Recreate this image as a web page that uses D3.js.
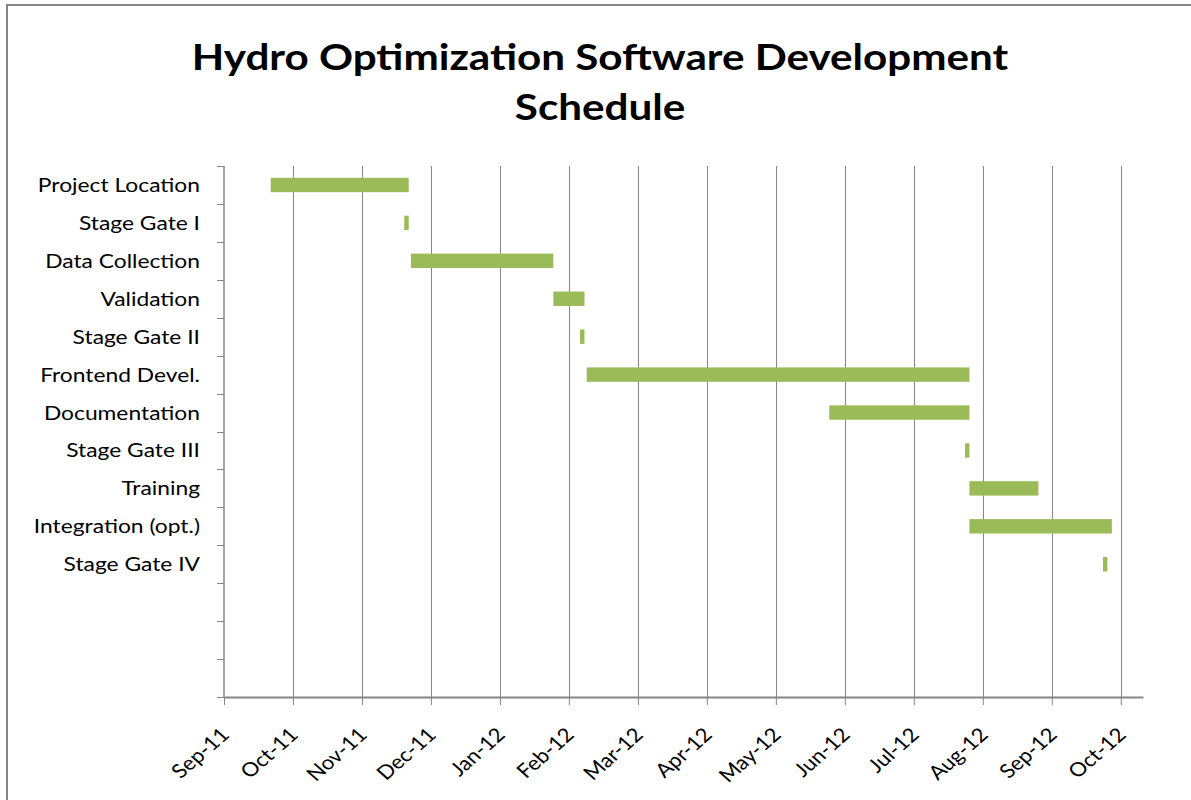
<!DOCTYPE html>
<html>
<head>
<meta charset="utf-8">
<script src="https://cdn.jsdelivr.net/npm/d3@7"></script>
<style>
  body { margin: 0; background: #fff; overflow: hidden; }
  svg { display: block; }
  .lbl { font-family: Lato, "Open Sans", sans-serif; fill: #000; }
</style>
</head>
<body>
<div id="gantt"></div>
<script>
//-- Data
var tasks = ["Project Location", "Stage Gate I", "Data Collection", "Validation", "Stage Gate II",
             "Frontend Devel.", "Documentation", "Stage Gate III", "Training", "Integration (opt.)", "Stage Gate IV"];
var startDates = ["2011-09-22", "2011-11-21", "2011-11-24", "2012-01-27", "2012-02-08",
                  "2012-02-11", "2012-05-30", "2012-07-30", "2012-08-01", "2012-08-01", "2012-09-30"];
var endDates = ["2011-11-23", "2011-11-23", "2012-01-27", "2012-02-10", "2012-02-10",
                "2012-08-01", "2012-08-01", "2012-08-01", "2012-09-01", "2012-10-04", "2012-10-02"];
var emptyRows = 3;

//-- Axis settings (Excel value axis: min, max, major unit in days)
var axisMin = "2011-09-01";
var axisMax = "2012-10-18";
var majorUnitDays = 31;
var tickCount = 14;

var totWidth = 1191;
var totHeight = 800;
var stretch = 1.14; // text in the original looks a bit wide

//-- Dimension & margin
var margin = {top: 166, right: 48, bottom: 103, left: 224},
    width = totWidth - margin.left - margin.right,
    height = totHeight - margin.top - margin.bottom;

var parse = d3.utcParse("%Y-%m-%d");

var svg0 = d3.select("#gantt")
  .append("svg")
    .attr("width", totWidth)
    .attr("height", totHeight);

//-- Chart border
svg0.append("rect")
  .attr("x", 7)
  .attr("y", 5)
  .attr("width", totWidth + 20)
  .attr("height", totHeight + 20)
  .attr("fill", "none")
  .attr("stroke", "#868686")
  .attr("stroke-width", 2);

//-- Title
var title = svg0.append("text")
  .attr("class", "lbl")
  .attr("text-anchor", "middle")
  .attr("transform", "translate(600,0) scale(" + stretch + ",1)")
  .style("font-size", "37px")
  .style("font-weight", "bold");
title.append("tspan").attr("x", 0).attr("y", 70).text("Hydro Optimization Software Development");
title.append("tspan").attr("x", 0).attr("y", 120).text("Schedule");

var svg = svg0.append("g")
  .attr("transform", "translate(" + margin.left + "," + margin.top + ")");

//-- Scales
var x = d3.scaleUtc()
  .domain([parse(axisMin), parse(axisMax)])
  .range([0, width]);

var rows = d3.range(tasks.length + emptyRows);
var y = d3.scaleBand()
  .domain(rows)
  .range([0, height])
  .padding(0);

var xtick = d3.range(tickCount).map(function(i){ return d3.utcDay.offset(parse(axisMin), i * majorUnitDays); });

//-- Gridlines
svg.append("g")
  .selectAll("line")
  .data(xtick.slice(1))
  .enter()
  .append("line")
    .attr("x1", function(d){ return Math.round(x(d)) + 0.5; })
    .attr("x2", function(d){ return Math.round(x(d)) + 0.5; })
    .attr("y1", 0)
    .attr("y2", height)
    .attr("stroke", "#868686")
    .attr("stroke-width", 1);

//-- Bars
var barH = y.step() * 0.38;
svg.append("g")
  .selectAll("rect")
  .data(tasks)
  .enter()
  .append("rect")
    .attr("x", function(d, i){ return x(parse(startDates[i])); })
    .attr("width", function(d, i){ return x(parse(endDates[i])) - x(parse(startDates[i])); })
    .attr("y", function(d, i){ return y(i) + (y.step() - barH) / 2; })
    .attr("height", barH)
    .attr("fill", "#9BBB59");

//-- X axis
var xAxis = d3.axisBottom(x)
  .tickValues(xtick)
  .tickSize(8)
  .tickSizeOuter(0)
  .tickFormat(d3.utcFormat("%b-%y"));

var gx = svg.append("g")
  .attr("transform", "translate(0," + height + ")")
  .call(xAxis);
gx.select(".domain").attr("stroke", "#868686").attr("stroke-width", 2);
gx.selectAll(".tick line").attr("stroke", "#868686");
gx.selectAll("text")
  .attr("class", "lbl")
  .style("font-size", "19.5px")
  .attr("text-anchor", "end")
  .attr("x", 0)
  .attr("y", 0)
  .attr("dy", 0)
  .attr("transform", "translate(6,39) scale(" + stretch + ",1) rotate(-45)");

//-- Y axis (category ticks at band edges)
var yEdges = d3.range(rows.length + 1).map(function(i){ return i * y.step(); });
svg.append("line")
  .attr("x1", 0).attr("x2", 0)
  .attr("y1", 0).attr("y2", height)
  .attr("stroke", "#868686")
  .attr("stroke-width", 1.5);
svg.append("g")
  .selectAll("line")
  .data(yEdges)
  .enter()
  .append("line")
    .attr("x1", -7).attr("x2", 0)
    .attr("y1", function(d){ return Math.round(d) + 0.5; })
    .attr("y2", function(d){ return Math.round(d) + 0.5; })
    .attr("stroke", "#868686");

svg.append("g")
  .selectAll("text")
  .data(tasks)
  .enter()
  .append("text")
    .attr("class", "lbl")
    .attr("transform", function(d, i){ return "translate(-24," + (y(i) + y.step() / 2) + ") scale(" + stretch + ",1)"; })
    .attr("dy", "0.35em")
    .attr("text-anchor", "end")
    .style("font-size", "20px")
    .text(function(d){ return d; });
</script>
</body>
</html>
